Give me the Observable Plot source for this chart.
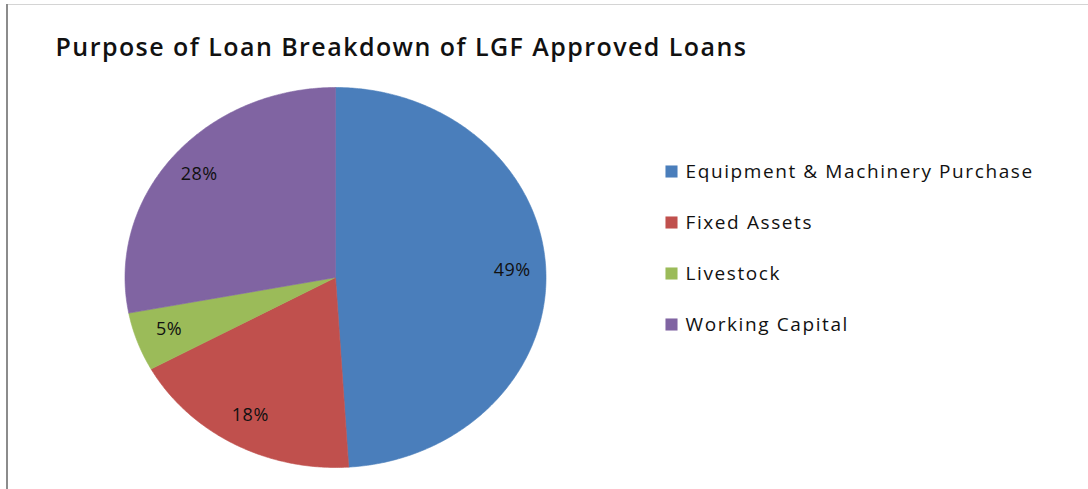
<!DOCTYPE html>
<html><head><meta charset="utf-8">
<script src="https://cdn.jsdelivr.net/npm/d3@7"></script>
<script src="https://cdn.jsdelivr.net/npm/@observablehq/plot@0.6"></script>
<style>
body{margin:0;background:#fff;}
#wrap{position:relative;width:1088px;height:489px;overflow:hidden;background:#fff;}
#bl{position:absolute;left:6px;top:4px;width:2px;height:485px;background:#8c8c8c;}
#bt{position:absolute;left:8px;top:4px;width:1080px;height:1px;background:#d4d4d4;}
#main{position:absolute;left:0;top:0;}
#legend{position:absolute;left:655px;top:140px;}
</style></head><body>
<div id="wrap"><div id="main"></div><div id="legend"></div><div id="bl"></div><div id="bt"></div></div>
<script>
const title = "Purpose of Loan Breakdown of LGF Approved Loans";
const categories = ["Equipment & Machinery Purchase", "Fixed Assets", "Livestock", "Working Capital"];
const values = [49, 18, 5, 28];
const labels = ["49%", "18%", "5%", "28%"];
const colors = ["#4a7ebb", "#c0504d", "#9bbb59", "#8064a2"];

const arcs = d3.pie().sort(null).value(d => d)(values);
const slicePts = [];
arcs.forEach((a, i) => {
  const key = categories[i];
  slicePts.push({key, x: 0, y: 0});
  const n = Math.max(2, Math.ceil((a.endAngle - a.startAngle) / 0.01));
  for (let k = 0; k <= n; k++) {
    const t = a.startAngle + (a.endAngle - a.startAngle) * k / n;
    slicePts.push({key, x: Math.sin(t), y: Math.cos(t)});
  }
  slicePts.push({key, x: 0, y: 0});
});
const labelPts = arcs.map((a, i) => {
  const m = (a.startAngle + a.endAngle) / 2;
  return {text: labels[i], x: 0.84 * Math.sin(m), y: 0.84 * Math.cos(m)};
});

const colorScale = {domain: categories, range: colors};

const main = Plot.plot({
  width: 1088, height: 489,
  margin: 0,
  x: {domain: [-1, 1], range: [124.5, 545.5], axis: null},
  y: {domain: [-1, 1], range: [467, 87], axis: null},
  color: colorScale,
  style: {fontFamily: "Open Sans", fontSize: "18px", background: "transparent", overflow: "visible"},
  marks: [
    Plot.line(slicePts, {x: "x", y: "y", z: "key", fill: "key", stroke: "key", strokeWidth: 0.6, curve: "linear"}),
    Plot.text(labelPts, {x: "x", y: "y", text: "text", fill: "#111", fontSize: 18, dy: -2}),
    Plot.text([title], {frameAnchor: "top-left", dx: 55, dy: 38, lineAnchor: "top", textAnchor: "start", fontSize: 25, fontWeight: 600, fill: "#111"})
  ]
});
main.querySelectorAll("text").forEach(t => {
  if (t.textContent.startsWith("Purpose")) t.setAttribute("letter-spacing", "1.45");
  else t.setAttribute("letter-spacing", "0.5");
});
document.getElementById("main").appendChild(main);

const legend = Plot.plot({
  width: 430, height: 220,
  margin: 0,
  y: {type: "point", domain: categories, range: [31, 184], padding: 0, axis: null},
  color: colorScale,
  style: {fontFamily: "Open Sans", fontSize: "19px", background: "transparent", overflow: "visible"},
  marks: [
    Plot.dot(categories, {y: d => d, frameAnchor: "left", dx: 16, symbol: "square", r: 6.8, fill: d => d}),
    Plot.text(categories, {y: d => d, frameAnchor: "left", dx: 30, textAnchor: "start", text: d => d, fill: "#111", fontSize: 19})
  ]
});
legend.querySelectorAll("text").forEach(t => t.setAttribute("letter-spacing", "1.6"));
document.getElementById("legend").appendChild(legend);
</script>
</body></html>
